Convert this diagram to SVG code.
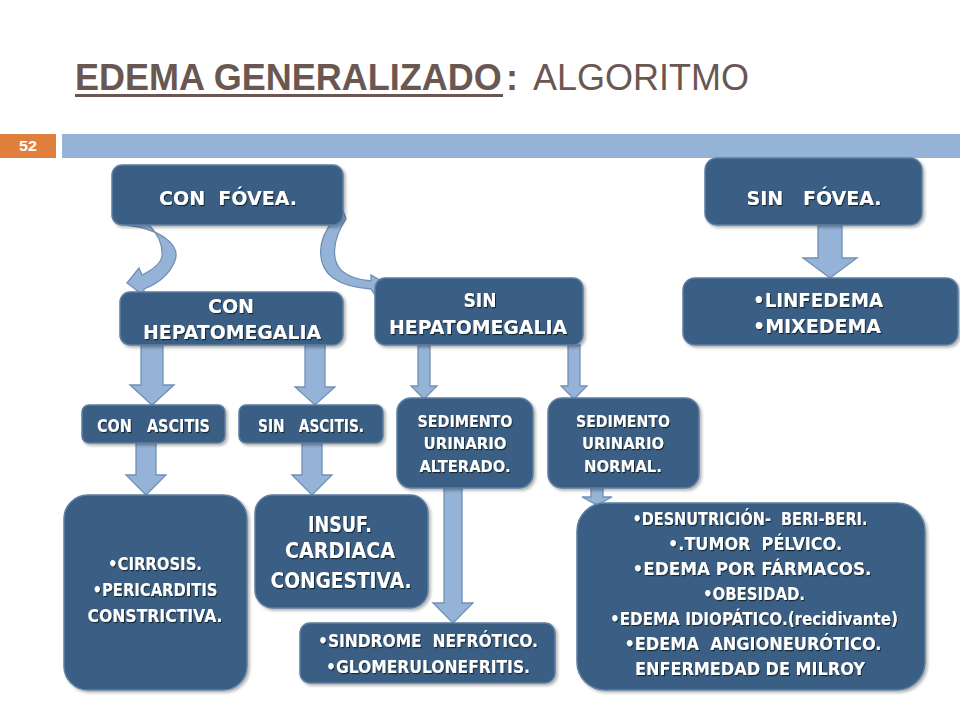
<svg xmlns="http://www.w3.org/2000/svg" width="960" height="720" viewBox="0 0 960 720">
<defs>
<filter id="bs" x="-10%" y="-10%" width="125%" height="130%"><feDropShadow dx="2" dy="2" stdDeviation="1.8" flood-color="#000" flood-opacity="0.3"/></filter>
<filter id="ts" x="-5%" y="-20%" width="110%" height="150%"><feDropShadow dx="1" dy="1.2" stdDeviation="0.6" flood-color="#0c1a28" flood-opacity="0.85"/></filter>
<style>
.box{fill:#3a5f84;stroke:#5b7fa3;stroke-width:1.5;filter:url(#bs)}
.t{font-family:"DejaVu Sans",Verdana,sans-serif;font-weight:bold;fill:#ffffff;text-anchor:middle;filter:url(#ts);white-space:pre}
.arr{fill:#95b3d7;stroke:#7190b6;stroke-width:1.3}
.title{font-family:"Liberation Sans",Arial,sans-serif;fill:#6b5752}
</style>
</defs>
<rect width="960" height="720" fill="#ffffff"/>
<g id="header">
<text class="title" y="90" font-size="36"><tspan x="75" font-weight="bold">EDEMA GENERALIZADO</tspan><tspan x="506" font-weight="bold">:</tspan><tspan x="533">ALGORITMO</tspan></text>
<rect x="75" y="94" width="428" height="3" fill="#6b5752"/>
<rect x="0" y="134" width="56" height="24" fill="#e07e3e"/>
<text x="28" y="151" font-family="Liberation Sans,Arial,sans-serif" font-weight="bold" font-size="15" fill="#ffffff" text-anchor="middle" textLength="18" lengthAdjust="spacingAndGlyphs">52</text>
<rect x="62" y="134" width="898" height="24" fill="#95b3d7"/>
</g>
<g id="connectors">
<path class="arr" d="M126,225 C160,229 183,245 174,263 C168,276 157,284 144,289 L144,296 L127,283 L139,268 L142,275 C152,270 161,264 162,256 C163,243 157,233 149,225 Z"/>
<path class="arr" d="M333,221 C317,240 316,265 333,278 C343,285 357,288 371,289 L375,295 L388,285 L371,275 L371,281 C358,280 349,277 342,271 C331,261 332,240 346,219 L343,211 Z"/>
<polygon class="arr" points="818,225 842,225 842,258 857,258 830,278 803,258 818,258"/>
<polygon class="arr" points="141,345 163,345 163,385 174,385 152,405 130,385 141,385"/>
<polygon class="arr" points="305,345 325,345 325,387 335,387 315,405 295,387 305,387"/>
<polygon class="arr" points="136,443 156,443 156,475 166,475 146,495 126,475 136,475"/>
<polygon class="arr" points="302,443 322,443 322,475 332,475 312,495 292,475 302,475"/>
<polygon class="arr" points="418,345 430,345 430,386 437,386 424,399 411,386 418,386"/>
<polygon class="arr" points="568,345 580,345 580,386 587,386 574,399 561,386 568,386"/>
<polygon class="arr" points="444,488 462,488 462,603 473,603 453,623 433,603 444,603"/>
<polygon class="arr" points="591,488 603,488 603,497 612,497 597,505 582,497 591,497"/>
</g>
<g id="con-fovea">
<rect class="box" x="112" y="165" width="231" height="60" rx="10"/>
<text class="t" x="228" y="205" font-size="20" textLength="138" lengthAdjust="spacingAndGlyphs">CON  FÓVEA.</text>
</g>
<g id="sin-fovea">
<rect class="box" x="705" y="158" width="217" height="67" rx="12"/>
<text class="t" x="814" y="205" font-size="20" textLength="135" lengthAdjust="spacingAndGlyphs">SIN   FÓVEA.</text>
</g>
<g id="con-hepatomegalia">
<rect class="box" x="120" y="292" width="223" height="53" rx="10"/>
<text class="t" x="231" y="313" font-size="20" textLength="46" lengthAdjust="spacingAndGlyphs">CON</text>
<text class="t" x="232" y="339" font-size="20" textLength="178" lengthAdjust="spacingAndGlyphs">HEPATOMEGALIA</text>
</g>
<g id="sin-hepatomegalia">
<rect class="box" x="375" y="278" width="208" height="67" rx="10"/>
<text class="t" x="480" y="307" font-size="20" textLength="33" lengthAdjust="spacingAndGlyphs">SIN</text>
<text class="t" x="478" y="334" font-size="20" textLength="178" lengthAdjust="spacingAndGlyphs">HEPATOMEGALIA</text>
</g>
<g id="linfedema">
<rect class="box" x="683" y="278" width="275" height="67" rx="12"/>
<text class="t" x="818" y="307" font-size="20" textLength="130" lengthAdjust="spacingAndGlyphs">•LINFEDEMA</text>
<text class="t" x="817" y="333" font-size="20" textLength="128" lengthAdjust="spacingAndGlyphs">•MIXEDEMA</text>
</g>
<g id="con-ascitis">
<rect class="box" x="82" y="405" width="143" height="38" rx="7"/>
<text class="t" x="153.5" y="432" font-size="17" textLength="113" lengthAdjust="spacingAndGlyphs">CON   ASCITIS</text>
</g>
<g id="sin-ascitis">
<rect class="box" x="239" y="405" width="144" height="38" rx="7"/>
<text class="t" x="311" y="432" font-size="17" textLength="106" lengthAdjust="spacingAndGlyphs">SIN   ASCITIS.</text>
</g>
<g id="sedimento-alterado">
<rect class="box" x="397" y="398" width="136" height="90" rx="14"/>
<text class="t" x="465" y="427" font-size="16" textLength="95" lengthAdjust="spacingAndGlyphs">SEDIMENTO</text>
<text class="t" x="465" y="449" font-size="16" textLength="83" lengthAdjust="spacingAndGlyphs">URINARIO</text>
<text class="t" x="465" y="472" font-size="16" textLength="91" lengthAdjust="spacingAndGlyphs">ALTERADO.</text>
</g>
<g id="sedimento-normal">
<rect class="box" x="548" y="398" width="151" height="90" rx="14"/>
<text class="t" x="623" y="427" font-size="16" textLength="94" lengthAdjust="spacingAndGlyphs">SEDIMENTO</text>
<text class="t" x="623" y="449" font-size="16" textLength="82" lengthAdjust="spacingAndGlyphs">URINARIO</text>
<text class="t" x="623" y="472" font-size="16" textLength="78" lengthAdjust="spacingAndGlyphs">NORMAL.</text>
</g>
<g id="cirrosis">
<rect class="box" x="64" y="495" width="183" height="195" rx="24"/>
<text class="t" x="155" y="570" font-size="18" textLength="94" lengthAdjust="spacingAndGlyphs">•CIRROSIS.</text>
<text class="t" x="155" y="596" font-size="18" textLength="125" lengthAdjust="spacingAndGlyphs">•PERICARDITIS</text>
<text class="t" x="155" y="622" font-size="18" textLength="135" lengthAdjust="spacingAndGlyphs">CONSTRICTIVA.</text>
</g>
<g id="insuf-cardiaca">
<rect class="box" x="255" y="495" width="173" height="113" rx="18"/>
<text class="t" x="340" y="532" font-size="21" textLength="64" lengthAdjust="spacingAndGlyphs">INSUF.</text>
<text class="t" x="340" y="558" font-size="21" textLength="110" lengthAdjust="spacingAndGlyphs">CARDIACA</text>
<text class="t" x="341" y="588" font-size="21" textLength="141" lengthAdjust="spacingAndGlyphs">CONGESTIVA.</text>
</g>
<g id="sindrome-nefrotico">
<rect class="box" x="300" y="623" width="255" height="60" rx="10"/>
<text class="t" x="428" y="647" font-size="17" textLength="220" lengthAdjust="spacingAndGlyphs">•SINDROME  NEFRÓTICO.</text>
<text class="t" x="428" y="673" font-size="17" textLength="204" lengthAdjust="spacingAndGlyphs">•GLOMERULONEFRITIS.</text>
</g>
<g id="otras-causas">
<rect class="box" x="577" y="503" width="348" height="187" rx="28"/>
<text class="t" x="750" y="525" font-size="18" textLength="235" lengthAdjust="spacingAndGlyphs">•DESNUTRICIÓN-  BERI-BERI.</text>
<text class="t" x="755" y="550" font-size="18" textLength="174" lengthAdjust="spacingAndGlyphs">•.TUMOR  PÉLVICO.</text>
<text class="t" x="752" y="575" font-size="18" textLength="239" lengthAdjust="spacingAndGlyphs">•EDEMA POR FÁRMACOS.</text>
<text class="t" x="754" y="600" font-size="18" textLength="102" lengthAdjust="spacingAndGlyphs">•OBESIDAD.</text>
<text class="t" x="754" y="625" font-size="18" textLength="288" lengthAdjust="spacingAndGlyphs">•EDEMA IDIOPÁTICO.(recidivante)</text>
<text class="t" x="753" y="650" font-size="18" textLength="257" lengthAdjust="spacingAndGlyphs">•EDEMA  ANGIONEURÓTICO.</text>
<text class="t" x="750" y="675" font-size="18" textLength="230" lengthAdjust="spacingAndGlyphs">ENFERMEDAD DE MILROY</text>
</g>
</svg>
